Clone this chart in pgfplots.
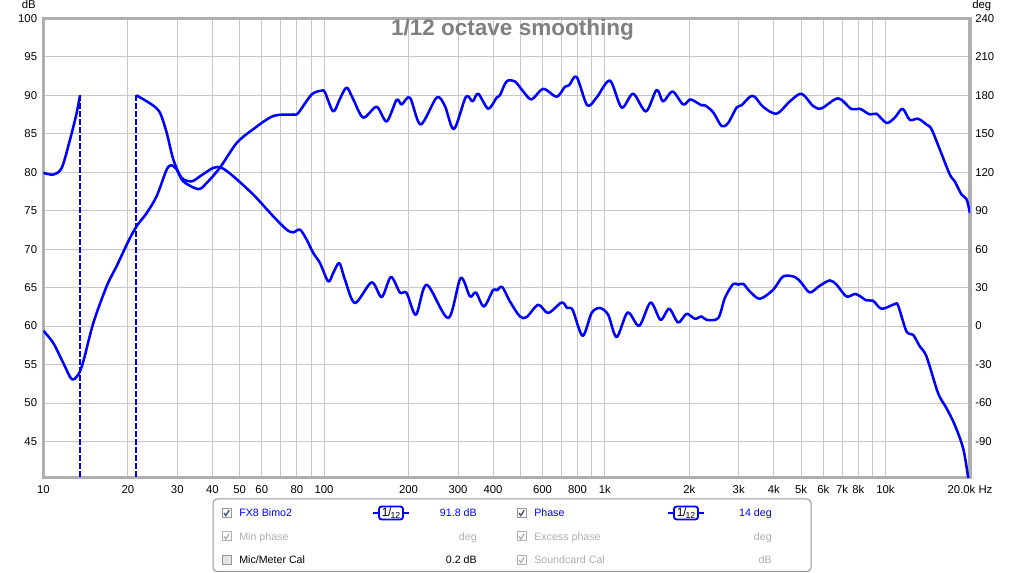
\documentclass[border=0pt]{standalone}
\usepackage{fontspec}
\setmainfont{Liberation Sans}
\usepackage{pgfplots}
\pgfplotsset{compat=1.18}
\definecolor{rewblue}{RGB}{0,0,255}
\definecolor{gridc}{RGB}{200,200,200}
\definecolor{framec}{RGB}{175,175,175}
\definecolor{titlec}{RGB}{128,128,128}
\definecolor{dis}{RGB}{175,175,175}
\definecolor{boxc}{RGB}{150,150,150}
\definecolor{chkc}{RGB}{70,80,110}
\newcommand{\cbx}[3]{%
  \draw[#3, line width=0.75pt, fill=white] (#1,#2-4.5) rectangle (#1+9,#2+4.5);}
\newcommand{\chk}[3]{%
  \draw[#3, line width=1pt] (#1+2,#2) -- (#1+3.8,#2+2.6) -- (#1+7.2,#2-2.8);}
\newcommand{\icon}[2]{%
  \draw[rewblue, line width=1.4pt] (#1,#2) -- (#1+6,#2);
  \draw[rewblue, line width=1.4pt, rounded corners=2pt, fill=white] (#1+6,#2-6.5) rectangle (#1+30,#2+6.5);
  \draw[rewblue, line width=1.4pt] (#1+30,#2) -- (#1+35.5,#2);
  \node[text=black, inner sep=0pt] at (#1+18,#2) {\fontsize{9}{9}\selectfont 1\kern-0.3pt/\kern-0.6pt\raisebox{-1.5pt}{\fontsize{6.5}{7}\selectfont 12}};}
\begin{document}
\begin{tikzpicture}
\useasboundingbox (0,0) rectangle (768pt,429.75pt);
\fill[white] (0,0) rectangle (768pt,429.75pt);
\begin{axis}[
  at={(32.5pt,71.5pt)}, anchor=south west, scale only axis,
  width=695pt, height=344.5pt,
  xmode=log, xmin=10, xmax=20000, ymin=40.3, ymax=100,
  xtick={10,20,30,40,50,60,70,80,90,100,200,300,400,500,600,700,800,900,1000,2000,3000,4000,5000,6000,7000,8000,9000,10000,20000},
  xticklabels={10,20,30,40,50,60,,80,,100,200,300,400,,600,,800,,1k,2k,3k,4k,5k,6k,7k,8k,,10k,{20.0k Hz}},
  ytick={45,50,55,60,65,70,75,80,85,90,95,100},
  yticklabels={45,50,55,60,65,70,75,80,85,90,95,100},
  xtick pos=bottom, ytick pos=left,
  grid=major, major grid style={gridc, line width=0.75pt},
  major tick length=0pt, minor tick length=0pt,
  axis line style={framec, line width=2.4pt},
  tick label style={font=\fontsize{8.5}{10}\selectfont, text=black},
  xticklabel style={anchor=north, inner sep=0pt, yshift=-5.5pt},
  yticklabel style={anchor=east, inner sep=0pt, xshift=-4.5pt},
]
\addplot[rewblue, line width=1.9pt, smooth, line join=round] coordinates {
(10,59.4) (10.85,57.8) (11.78,55.2) (12.62,53.1) (13.32,53.7) (13.88,55.4) (15.07,60.4) (16.82,65.2) (18.25,67.8) (20.07,71.0) (21.51,73.0) (23.35,74.7) (25.34,76.9) (27.51,80.35) (28.66,80.9) (29.86,80.35) (31.52,78.8) (35.65,77.8) (38.18,78.6) (42.59,80.6) (48.84,83.8) (55.97,85.6) (65.93,87.3) (77.68,87.5) (80.93,87.7) (90.33,90.1) (98.0,90.6) (100.7,90.4) (107.8,87.9) (113.9,89.55) (120.4,91.0) (127.1,89.46) (137.9,87.1) (153.9,88.5) (167.1,86.6) (181.3,89.4) (189.0,88.8) (202.3,89.7) (220.8,86.2) (251.8,89.7) (269.5,88.6) (290.1,85.6) (320.2,89.8) (338.2,89.2) (354.1,90.2) (384.4,88.25) (411.9,89.7) (423.1,90.0) (447.0,91.8) (478.4,91.8) (512.2,90.5) (548.8,89.46) (603.6,90.85) (673.5,89.8) (721.0,91.1) (746.9,91.3) (793.5,92.4) (865.7,88.7) (935.0,89.7) (1043,91.9) (1148,88.4) (1262,90.2) (1401,87.9) (1530,90.7) (1614,89.2) (1744,90.5) (1902,88.8) (2009,89.46) (2094,89.2) (2211,88.7) (2272,88.7) (2432,87.8) (2606,86.0) (2751,86.4) (2948,88.4) (3071,88.7) (3287,89.8) (3423,89.8) (3665,88.5) (4091,87.6) (4562,89.2) (5022,90.2) (5523,88.6) (5918,88.3) (6780,89.6) (7567,88.2) (8101,88.25) (8795,87.5) (9290,87.6) (10083,86.4) (10793,87.1) (11495,88.25) (12203,86.8) (13063,86.95) (13996,86.2) (14581,85.6) (15612,82.95) (16943,79.7) (17652,78.8) (18650,77.1) (19431,76.5) (20000,74.7)
};
\end{axis}
\begin{axis}[
  at={(32.5pt,71.5pt)}, anchor=south west, scale only axis,
  width=695pt, height=344.5pt,
  xmode=log, xmin=10, xmax=20000, ymin=-118.2, ymax=240,
  axis y line*=right, axis x line=none,
  axis line style={draw=none},
  ytick={-90,-60,-30,0,30,60,90,120,150,180,210,240},
  yticklabels={-90,-60,-30,0,30,60,90,120,150,180,210,240},
  major tick length=0pt, minor tick length=0pt,
  tick label style={font=\fontsize{8.5}{10}\selectfont, text=black},
  yticklabel style={anchor=west, inner sep=0pt, xshift=3.75pt},
]
\addplot[rewblue, line width=1.9pt, smooth, line join=round] coordinates {
(10,119.5) (10.85,118.2) (11.63,123.4) (12.45,145.5) (13.15,166.4) (13.51,180)
};
\addplot[rewblue, line width=1.4pt, dash pattern=on 4.5pt off 1.5pt] coordinates {(13.51,180) (13.51,-180)};
\addplot[rewblue, line width=1.4pt, dash pattern=on 4.5pt off 1.5pt] coordinates {(21.44,-180) (21.44,180)};
\addplot[rewblue, line width=1.9pt, smooth, line join=round] coordinates {
(21.44,180) (24.32,172.8) (26.03,166.4) (27.51,150.7) (29.04,129.9) (31.11,115.6) (33.77,112.9) (36.14,116.8) (40.31,123.4) (43.18,123.4) (47.50,116.8) (55.97,102.5) (65.93,85.6) (73.6,75.2) (77.68,73.1) (82.08,75.2) (86.7,67.4) (91.5,57.0) (96.7,49.2) (103.5,34.8) (107.8,41.4) (113.3,49.2) (118.7,36.2) (128.8,18.0) (147.7,34.1) (160.4,22.6) (173.1,38.3) (186.3,26.2) (196.9,25.8) (212.5,8.8) (232.0,32.3) (276.9,6.2) (306.6,37.5) (330.9,23.1) (347.5,26.2) (371.0,15.3) (400.5,28.3) (411.9,27.8) (431.1,30.5) (459.2,19.2) (498.6,7.5) (526.7,7.0) (579.3,16.6) (628.6,10.2) (701.9,18.4) (734.7,14.1) (767.9,12.7) (833.7,-7.6) (897.5,10.2) (960.7,14.1) (1028,8.8) (1102,-8.6) (1206,10.6) (1326,0.2) (1456,18.4) (1580,4.9) (1696,13.5) (1826,2.8) (1956,9.6) (2094,5.7) (2211,7.5) (2304,4.9) (2535,6.2) (2677,21.9) (2866,32.8) (2986,32.3) (3112,33.0) (3287,27.0) (3567,21.3) (3979,28.3) (4318,38.7) (4753,38.3) (5022,33.6) (5376,26.2) (5834,31.5) (6332,35.6) (6692,32.3) (7262,23.1) (7841,25.0) (8556,20.0) (9031,19.8) (9679,13.5) (10793,17.2) (11090,15.9) (11880,-4.2) (12544,-6.8) (13250,-15.9) (13996,-23.7) (15392,-52.3) (16490,-64.0) (17652,-77.1) (18900,-95.3) (19690,-117.5) (20000,-128)
};
\end{axis}
\begin{scope}[x=0.75pt,y=-0.75pt,yshift=429.75pt]
\node[anchor=base, inner sep=0pt, text=titlec, font=\bfseries\fontsize{16.9}{19}\selectfont] at (512.5,35.7) {1/12 octave smoothing};
\node[anchor=base east, inner sep=0pt, font=\fontsize{8.5}{10}\selectfont] at (36,9) {dB};
\node[anchor=base west, inner sep=0pt, font=\fontsize{8.5}{10}\selectfont] at (972,9) {deg};
\begin{scope}[font=\fontsize{8}{9.6}\selectfont]
\draw[boxc, rounded corners=3pt, line width=0.75pt] (213,499) rectangle (811,571.5);
% row 1
\cbx{222}{513}{boxc}\chk{222}{513}{chkc}
\node[anchor=base west, inner sep=0pt, text=rewblue] at (239,516.8) {FX8 Bimo2};
\icon{373}{513}
\node[anchor=base east, inner sep=0pt, text=rewblue] at (477,516.8) {91.8 dB};
\cbx{517}{513}{boxc}\chk{517}{513}{chkc}
\node[anchor=base west, inner sep=0pt, text=rewblue] at (534,516.8) {Phase};
\icon{668}{513}
\node[anchor=base east, inner sep=0pt, text=rewblue] at (772,516.8) {14 deg};
% row 2
\cbx{222}{536.5}{dis}\chk{222}{536.5}{dis}
\node[anchor=base west, inner sep=0pt, text=dis] at (239,540.3) {Min phase};
\node[anchor=base east, inner sep=0pt, text=dis] at (477,540.3) {deg};
\cbx{517}{536.5}{dis}\chk{517}{536.5}{dis}
\node[anchor=base west, inner sep=0pt, text=dis] at (534,540.3) {Excess phase};
\node[anchor=base east, inner sep=0pt, text=dis] at (772,540.3) {deg};
% row 3
\draw[boxc, line width=0.75pt, fill={rgb,255:red,228;green,228;blue,228}] (222,555.5) rectangle (231,564.5);
\node[anchor=base west, inner sep=0pt, text=black] at (239,563.8) {Mic/Meter Cal};
\node[anchor=base east, inner sep=0pt, text=black] at (477,563.8) {0.2 dB};
\cbx{517}{560}{dis}\chk{517}{560}{dis}
\node[anchor=base west, inner sep=0pt, text=dis] at (534,563.8) {Soundcard Cal};
\node[anchor=base east, inner sep=0pt, text=dis] at (772,563.8) {dB};
\end{scope}
\end{scope}
\end{tikzpicture}
\end{document}
